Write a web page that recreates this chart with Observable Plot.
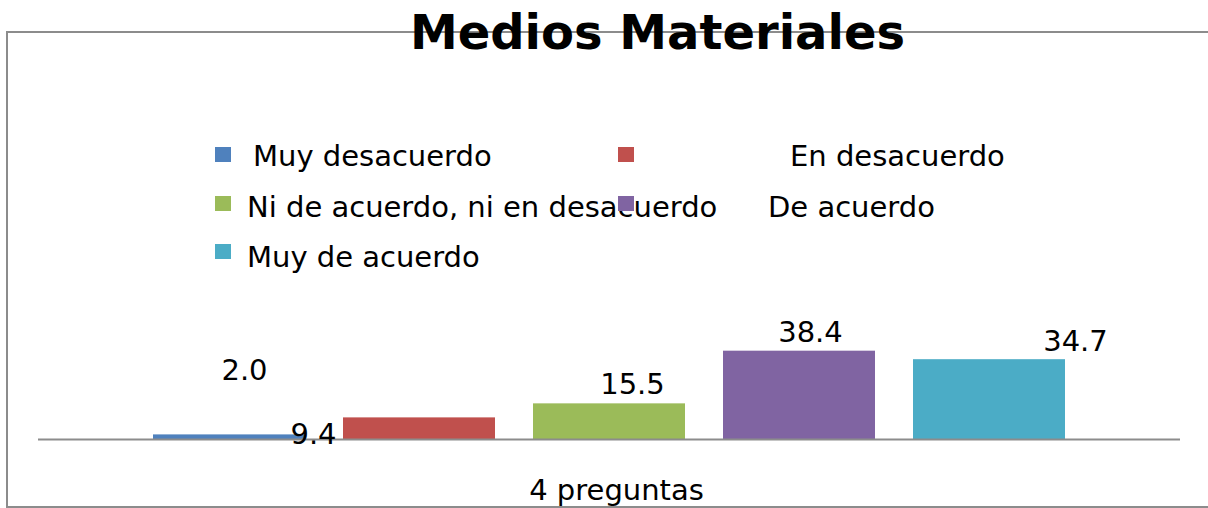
<!DOCTYPE html>
<html>
<head>
<meta charset="utf-8">
<script src="https://cdn.jsdelivr.net/npm/d3@7"></script>
<script src="https://cdn.jsdelivr.net/npm/@observablehq/plot@0.6"></script>
<style>
  html, body { margin: 0; padding: 0; background: #fff; overflow: hidden; }
  #wrap { position: relative; width: 1208px; height: 508px; overflow: hidden; font-family: "DejaVu Sans", sans-serif; color: #000; }
  #frame { position: absolute; left: 6px; top: 31px; width: 1220px; height: 473px; border: 2px solid #8c8c8c; border-right: none; }
  #title { position: absolute; left: 0; width: 1315px; top: 8px; text-align: center; font: bold 48px "DejaVu Sans", sans-serif; line-height: 48px; white-space: nowrap; }
  .sw { position: absolute; width: 16px; height: 15px; }
  .lt { position: absolute; font-size: 29px; line-height: 29px; white-space: nowrap; }
  #chart { position: absolute; left: 0; top: 280px; }
</style>
</head>
<body>
<div id="wrap">
  <div id="frame"></div>
  <div id="chart"></div>
  <div id="title"></div>
  <div id="legend"></div>
</div>
<script>
// ---- data ----
const title = "Medios Materiales";
const groupLabel = "4 preguntas";
const categories = ["Muy desacuerdo", "En desacuerdo", "Ni de acuerdo, ni en desacuerdo", "De acuerdo", "Muy de acuerdo"];
const values = [2.0, 9.4, 15.5, 38.4, 34.7];
const colors = ["#4F81BD", "#C0504D", "#9BBB59", "#8064A2", "#4BACC6"];

// ---- layout (label offsets as in the original) ----
const labelDx = [15, -106, 23, 11, 86];
const labelDy = [-64, 17, -19, -18, -18];
// legend placement: [swatchX, swatchY, textX, baselineY]
const legendPos = [
  [215, 147, 253, 166],
  [618, 147, 790, 166],
  [215, 196, 247, 217],
  [618, 196, 768, 217],
  [215, 244, 247, 267]
];

const data = categories.map((c, i) => ({cat: c, value: values[i], label: values[i].toFixed(1), dx: labelDx[i], dy: labelDy[i]}));

document.getElementById("title").textContent = title;

// legend
const legend = document.getElementById("legend");
categories.forEach((c, i) => {
  const [sx, sy, tx, by] = legendPos[i];
  const sw = document.createElement("div");
  sw.className = "sw";
  sw.style.left = sx + "px"; sw.style.top = sy + "px"; sw.style.background = colors[i];
  legend.appendChild(sw);
  const t = document.createElement("div");
  t.className = "lt";
  t.style.left = tx + "px"; t.style.top = (by - 24.5) + "px";
  t.textContent = c;
  legend.appendChild(t);
});

const plot = Plot.plot({
  width: 1208,
  height: 228,
  marginLeft: 38,
  marginRight: 28,
  marginTop: 21,
  marginBottom: 69,
  style: {background: "transparent", fontFamily: "DejaVu Sans, sans-serif", overflow: "visible"},
  x: {domain: categories, paddingInner: 0.2, paddingOuter: 0.6, axis: null},
  y: {domain: [0, 60], axis: null},
  color: {domain: categories, range: colors},
  marks: [
    Plot.barY(data, {x: "cat", y: "value", fill: "cat"}),
    Plot.ruleY([0], {stroke: "#8c8c8c", strokeWidth: 2}),
    ...data.map(d => Plot.text([d], {x: "cat", y: "value", text: "label", dx: d.dx, dy: d.dy, lineAnchor: "middle", fontSize: 29, fill: "#000"})),
    Plot.text([groupLabel], {frameAnchor: "bottom", text: d => d, dx: 7, dy: 60, lineAnchor: "bottom", fontSize: 29, fill: "#000"})
  ]
});
document.getElementById("chart").appendChild(plot);
</script>
</body>
</html>
